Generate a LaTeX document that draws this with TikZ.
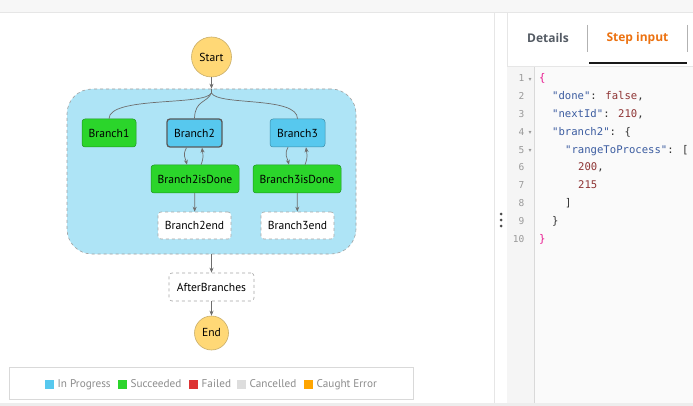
\documentclass[tikz,border=0pt]{standalone}
\usepackage{fontspec}
\setmainfont{PT Sans}
\newfontfamily\tabfont{Open Sans}
\newfontfamily\codefont{DejaVu Sans Mono}
\newfontfamily\symfont{DejaVu Sans}
\usetikzlibrary{arrows.meta,calc}
\definecolor{inprog}{HTML}{57C8EE}
\definecolor{succ}{HTML}{2BD52B}
\definecolor{failc}{HTML}{DD3333}
\definecolor{cancc}{HTML}{DDDDDD}
\definecolor{caught}{HTML}{FFA500}
\definecolor{parbg}{HTML}{AEE4F6}
\definecolor{termfill}{HTML}{FFD876}
\definecolor{termedge}{HTML}{C9AE6A}
\definecolor{edgec}{HTML}{6E6E6E}
\definecolor{keyc}{HTML}{3B5CA0}
\definecolor{valc}{HTML}{8E3434}
\definecolor{bracec}{HTML}{E8168E}
\definecolor{punc}{HTML}{333333}
\definecolor{lnum}{HTML}{999999}
\definecolor{tabgray}{HTML}{545B64}
\definecolor{taborange}{HTML}{EC7211}
\definecolor{panelline}{HTML}{E6E6E6}
\begin{document}
\begin{tikzpicture}[x=1pt,y=-1pt,
  statebox/.style={draw=#1!70!black, rounded corners=3pt, inner sep=0pt, font=\fontsize{11.6}{13}\selectfont, text=black},
  succbox/.style={statebox=succ, fill=succ, line width=0.5pt},
  progbox/.style={statebox=inprog, fill=inprog, line width=0.5pt},
  pendbox/.style={draw=gray!70, dashed, fill=white, rounded corners=3pt, inner sep=0pt, font=\fontsize{11.6}{13}\selectfont, line width=0.6pt},
  term/.style={circle, fill=termfill, draw=termedge, line width=0.6pt, inner sep=0pt, font=\fontsize{11.6}{13}\selectfont},
  arr/.style={draw=edgec, line width=0.7pt, -{Stealth[length=5pt,width=4pt]}},
  conn/.style={draw=edgec, line width=0.7pt},
  legsq/.style={minimum size=9pt, inner sep=0pt, fill=#1},
  legtxt/.style={anchor=mid west, inner sep=0pt, text=gray!90, font=\fontsize{11.2}{12}\selectfont},
  code/.style={anchor=mid west, inner sep=0pt, font=\codefont\fontsize{10.6}{12}\selectfont},
  lnumtxt/.style={anchor=mid east, inner sep=0pt, text=lnum, font=\codefont\fontsize{9.5}{11}\selectfont},
  fold/.style={anchor=center, inner sep=0pt, text=lnum, font=\symfont\fontsize{6}{7}\selectfont}
]
\useasboundingbox (0,0) rectangle (693,406);
% panels
\fill[white] (0,0) rectangle (693,406);
\fill[black!3] (0,0) rectangle (693,12);
\draw[panelline, line width=0.8pt] (0,12.5) -- (693,12.5);
\draw[panelline, line width=0.8pt] (494,12.5) -- (494,406);
\draw[panelline, line width=0.8pt] (507,12.5) -- (507,406);
\fill[black!2] (507,66) rectangle (693,403);
\fill[black!4] (507,66) rectangle (534,403);
\draw[black!15, line width=0.8pt] (534,66) -- (534,403);
\draw[panelline, line width=0.8pt] (507,66) -- (693,66);
\fill[black!7] (0,403) rectangle (693,406);
% drag handle
\fill[black!70] (501,214) circle (1.5) (501,220) circle (1.5) (501,226) circle (1.5);
% tabs
\node[anchor=center, inner sep=0pt, text=tabgray, font=\tabfont\bfseries\fontsize{12}{14}\selectfont] (tabdet) at (548,38) {Details};
\node[anchor=center, inner sep=0pt, text=taborange, font=\tabfont\bfseries\fontsize{12}{14}\selectfont] (tabstep) at (637.5,38) {Step input};
\draw[black!30, line width=0.8pt] (587.5,25) -- (587.5,52);
\draw[black!30, line width=0.8pt] (687,25) -- (687,52);
\draw[black!90, line width=1.6pt] (589,63) -- (687,63);
% code
\foreach \n in {1,...,10} {
  \node[lnumtxt] (ln\n) at (524.5,{79+(\n-1)*17.9}) {\n};
}
\foreach \n in {1,4,5} {
  \node[fold] (fd\n) at (530,{79.5+(\n-1)*17.9}) {▾};
}
\node[code] (c1) at (539,79) {\textcolor{bracec}{\{}};
\node[code] (c2) at (552,96.9) {\textcolor{keyc}{"done"}\textcolor{punc}{: }\textcolor{valc}{false}\textcolor{punc}{,}};
\node[code] (c3) at (552,114.8) {\textcolor{keyc}{"nextId"}\textcolor{punc}{: }\textcolor{valc}{210}\textcolor{punc}{,}};
\node[code] (c4) at (552,132.7) {\textcolor{keyc}{"branch2"}\textcolor{punc}{: \{}};
\node[code] (c5) at (565,150.6) {\textcolor{keyc}{"rangeToProcess"}\textcolor{punc}{: [}};
\node[code] (c6) at (578,168.5) {\textcolor{valc}{200}\textcolor{punc}{,}};
\node[code] (c7) at (578,186.4) {\textcolor{valc}{215}};
\node[code] (c8) at (565,204.3) {\textcolor{punc}{]}};
\node[code] (c9) at (552,222.2) {\textcolor{punc}{\}}};
\node[code] (c10) at (539,240.1) {\textcolor{bracec}{\}}};
% diagram
\node[draw=gray!75, dashed, fill=parbg, rounded corners=25pt, line width=0.6pt, minimum width=289pt, minimum height=165pt, inner sep=0pt] (par) at (211.5,171.5) {};
\node[term, minimum size=40pt] (start) at (211.5,57) {Start};
\node[succbox, minimum width=54pt, minimum height=28pt] (b1) at (109,133) {Branch1};
\node[progbox, draw=black!65, line width=1.3pt, minimum width=55pt, minimum height=28pt] (b2) at (194.5,133) {Branch2};
\node[progbox, minimum width=55pt, minimum height=28pt] (b3) at (297.5,133) {Branch3};
\node[succbox, minimum width=88pt, minimum height=28pt] (b2d) at (195,179) {Branch2isDone};
\node[succbox, minimum width=88pt, minimum height=28pt] (b3d) at (297,179) {Branch3isDone};
\node[pendbox, minimum width=73pt, minimum height=27pt] (b2e) at (194.5,225.5) {Branch2end};
\node[pendbox, minimum width=73pt, minimum height=27pt] (b3e) at (297.5,225.5) {Branch3end};
\node[pendbox, minimum width=85pt, minimum height=28pt] (ab) at (211.5,287) {AfterBranches};
\node[term, minimum size=34pt] (end) at (211.5,333) {End};
\coordinate (fork) at (211.5,93);
\draw[arr] (start) -- (par.north);
\draw[conn] (par.north) -- (fork);
\draw[conn] (fork) .. controls (205,106) and (109,96) .. (b1.north);
\draw[conn] (fork) .. controls (207,103) and (195,100) .. (b2.north);
\draw[conn] (fork) .. controls (218,106) and (297.5,96) .. (b3.north);
\draw[arr] ([xshift=-8pt]b2.south) .. controls +(-4,8) and +(-2,-8) .. ([xshift=-8pt]b2d.north);
\draw[arr] ([xshift=6pt]b2d.north) .. controls +(3,-8) and +(1,8) .. ([xshift=7.5pt]b2.south);
\draw[arr] ([xshift=-9.5pt]b3.south) .. controls +(-4,8) and +(-2,-8) .. ([xshift=-8pt]b3d.north);
\draw[arr] ([xshift=8pt]b3d.north) .. controls +(3,-8) and +(1,8) .. ([xshift=8.5pt]b3.south);
\draw[arr] (b2d) -- (b2e);
\draw[arr] (b3d) -- (b3e);
\draw[arr] (par.south) -- (ab.north);
\draw[arr] (ab) -- (end);
% legend
\node[draw=black!15, fill=white, line width=0.8pt, minimum width=404pt, minimum height=32pt, inner sep=0pt] (legend) at (211,383) {};
\node[legsq=inprog] (s1) at (49.5,384.5) {};
\node[legtxt] (t1) at (57.5,384.5) {In Progress};
\node[legsq=succ] (s2) at (122.5,384.5) {};
\node[legtxt] (t2) at (130.5,384.5) {Succeeded};
\node[legsq=failc] (s3) at (193.5,384.5) {};
\node[legtxt] (t3) at (201.5,384.5) {Failed};
\node[legsq=cancc] (s4) at (241.5,384.5) {};
\node[legtxt] (t4) at (249.5,384.5) {Cancelled};
\node[legsq=caught] (s5) at (308.5,384.5) {};
\node[legtxt] (t5) at (316.5,384.5) {Caught Error};
\end{tikzpicture}
\end{document}
